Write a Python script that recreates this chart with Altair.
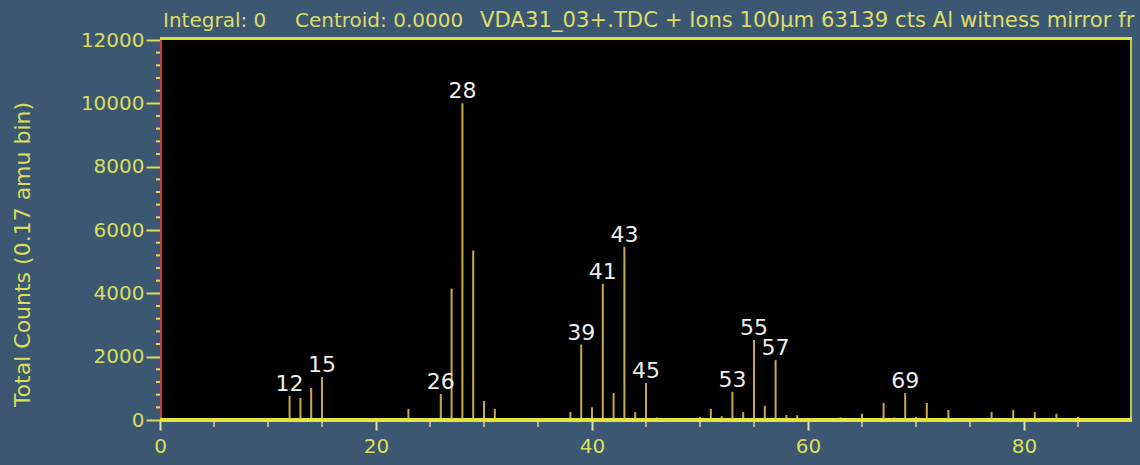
import altair as alt
import pandas as pd

# ---- data ----
mass = [12, 13, 14, 15, 23, 26, 27, 28, 29, 30, 31, 37, 38, 39, 40, 41, 42, 43, 44, 45,
        46, 47, 50, 51, 52, 53, 54, 55, 56, 57, 58, 59, 62, 63, 65, 66, 67, 68, 69, 70,
        71, 72, 73, 77, 78, 79, 81, 83, 84, 85]
counts = [760, 700, 1010, 1360, 350, 820, 4150, 10000, 5350, 600, 350, 60, 250, 2380, 400, 4300, 850, 5470, 250, 1170,
          80, 60, 100, 350, 120, 890, 250, 2530, 450, 1890, 160, 150, 60, 80, 200, 60, 540, 80, 850, 100,
          540, 40, 320, 250, 60, 320, 250, 200, 50, 100]
label_mass = [12, 15, 26, 28, 39, 41, 43, 45, 53, 55, 57, 69]

x_major = [0, 20, 40, 60, 80]
x_minor = [5, 10, 15, 25, 30, 35, 45, 50, 55, 65, 70, 75, 85]
y_major = [0, 2000, 4000, 6000, 8000, 10000, 12000]
y_minor = [v for v in range(400, 12000, 400) if v % 2000 != 0]

TITLE_PARTS = ["Integral: 0", "Centroid: 0.0000",
               "VDA31_03+.TDC + Ions 100\u00b5m 63139 cts Al witness mirror fr"]
Y_TITLE = "Total Counts (0.17 amu bin)"

W, H = 972, 380
FONT = "DejaVu Sans"
BG = "#3c5772"
YEL = "#d9de5c"
BAR = "#c9a94c"
TCOL = "#dcdc6a"

df = pd.DataFrame({"mass": mass, "counts": counts})
df_lab = df[df["mass"].isin(label_mass)]
one = pd.DataFrame({"k": [0]})

xs = alt.Scale(domain=[0, 90], nice=False, zero=False)
ys = alt.Scale(domain=[0, 12000], nice=False)

x_axis = alt.Axis(values=x_major, domain=False, grid=False, tickSize=10, tickWidth=2,
                  tickColor="#e2e0a8", labelFont=FONT, labelFontSize=20, labelColor=YEL,
                  labelPadding=6, labelFlush=False)
y_axis = alt.Axis(values=y_major, format="d", domain=False, grid=False, tickSize=14, tickWidth=2,
                  tickColor=YEL, labelFont=FONT, labelFontSize=20, labelColor=YEL,
                  labelPadding=2, titleFont=FONT, titleFontSize=22, titleColor=YEL,
                  titleFontWeight="normal", titleX=-138, titleY=214, titleAlign="center",
                  titleBaseline="middle", titleAngle=270)

bars = alt.Chart(df).mark_rule(color=BAR, strokeWidth=2).encode(
    x=alt.X("mass:Q", scale=xs, title=None, axis=x_axis),
    y=alt.Y("counts:Q", scale=ys, title=Y_TITLE, axis=y_axis),
    y2=alt.datum(0),
)

labels = alt.Chart(df_lab).mark_text(color="#eeeeee", font=FONT, fontSize=22, baseline="alphabetic",
                                     dy=-5).encode(
    x=alt.X("mass:Q", scale=xs, title=None, axis=x_axis),
    y=alt.Y("counts:Q", scale=ys, title=Y_TITLE, axis=y_axis),
    text=alt.Text("mass:Q", format="d"),
)

xminor = alt.Chart(pd.DataFrame({"mass": x_minor})).mark_rule(color="#d8d6a8", strokeWidth=1.5).encode(
    x=alt.X("mass:Q", scale=xs, title=None, axis=x_axis), y=alt.value(H + 1), y2=alt.value(H + 7))

yminor = alt.Chart(pd.DataFrame({"counts": y_minor})).mark_rule(color=YEL, strokeWidth=2).encode(
    y=alt.Y("counts:Q", scale=ys, title=Y_TITLE, axis=y_axis), x=alt.value(-4), x2=alt.value(0))

top_line = alt.Chart(one).mark_rule(color="#dfe03a", strokeWidth=3).encode(
    x=alt.value(0), x2=alt.value(W), y=alt.value(-1.5))
right_line = alt.Chart(one).mark_rule(color="#c8c23c", strokeWidth=2).encode(
    x=alt.value(W - 1), y=alt.value(0), y2=alt.value(H))
left_line = alt.Chart(one).mark_rule(color="#d43a3a", strokeWidth=2).encode(
    x=alt.value(1), y=alt.value(0), y2=alt.value(H))
bottom_line = alt.Chart(one).mark_rule(color="#e2e43a", strokeWidth=4).encode(
    x=alt.value(0), x2=alt.value(W), y=alt.value(H))

title_layers = []
for txt, xpos, fs in zip(TITLE_PARTS, [3, 135, 320], [20, 20, 21.2]):
    title_layers.append(
        alt.Chart(one).mark_text(align="left", baseline="alphabetic", font=FONT, fontSize=fs,
                                 color=TCOL).encode(
            x=alt.value(xpos), y=alt.value(-13), text=alt.value(txt)))

chart = alt.layer(bars, labels, xminor, yminor, top_line, right_line, left_line, bottom_line,
                  *title_layers).properties(
    width=W, height=H,
    autosize=alt.AutoSizeParams(type="none"),
    padding={"left": 160, "top": 40, "right": 8, "bottom": 45},
    background=BG,
).configure_view(fill="#000000", stroke=None)

chart.save("out.html", embed_options={"renderer": "svg", "actions": False})
